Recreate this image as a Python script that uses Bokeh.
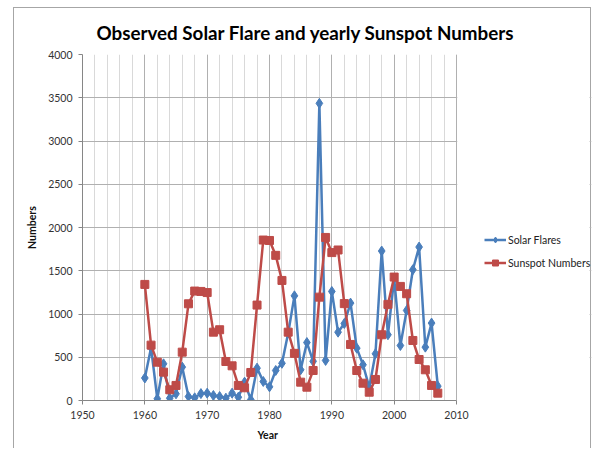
from bokeh.plotting import figure
from bokeh.models import SingleIntervalTicker, Range1d, Legend, LegendItem, BoxAnnotation, Title
from bokeh.embed import file_html
from bokeh.resources import INLINE

years = list(range(1960, 2008))
solar_flares = [260, 610, 20, 424, 27, 77, 386, 46, 31, 80,
                85, 58, 46, 27, 85, 38, 212, 10, 374, 220,
                158, 347, 430, 780, 1210, 355, 670, 453, 3435, 463,
                1261, 790, 890, 1126, 605, 413, 154, 540, 1728, 760,
                1408, 636, 1041, 1512, 1774, 617, 895, 166]
sunspots = [1342, 640, 443, 328, 124, 174, 559, 1118, 1265, 1261,
            1248, 790, 818, 451, 401, 174, 147, 324, 1103, 1855,
            1850, 1678, 1388, 790, 545, 212, 154, 347, 1195, 1885,
            1710, 1740, 1120, 648, 347, 200, 96, 243, 760, 1111,
            1427, 1319, 1234, 694, 474, 355, 174, 85]

title_text = "Observed Solar Flare and yearly Sunspot Numbers"
x_label = "Year"
y_label = "Numbers"
series_names = ["Solar Flares", "Sunspot Numbers"]
x_min, x_max = 1950, 2010
y_min, y_max = 0, 4000

FONT = "Lato"
BLUE = "#4A7EBB"
RED = "#BE4B48"
BORDER = "#a6a6a6"

# frame spans 82..591 px horizontally; the axis part (1950-2010) spans 82..456
px_per_year = (456 - 82) / (x_max - x_min)
x_end = x_min + (591 - 82) / px_per_year

p = figure(width=595, height=448, output_backend="svg", toolbar_location=None,
           x_range=Range1d(x_min, x_end), y_range=Range1d(y_min, y_max),
           min_border_left=82, min_border_top=54, min_border_right=4,
           min_border_bottom=48)
p.outline_line_color = None
p.border_fill_alpha = 0
p.background_fill_alpha = 0

# chart-area border drawn as CSS background lines behind the transparent canvas
g = f"linear-gradient({BORDER}, {BORDER})"
p.styles = {
    "background-color": "white",
    "background-image": f"{g}, {g}, {g}",
    "background-size": "1px 100%, 578px 1px, 1px 100%",
    "background-position": "13px 7px, 13px 7px, 590px 7px",
    "background-repeat": "no-repeat",
}

# title
p.title.text = title_text
p.title.text_font = FONT
p.title.text_font_size = "18.8px"
p.title.text_font_style = "bold"
p.title.text_color = "#000000"
p.title.align = "left"
p.title.offset = 14
p.title.standoff = 21

# axes
p.xaxis.ticker = SingleIntervalTicker(interval=10, num_minor_ticks=5)
p.yaxis.ticker = SingleIntervalTicker(interval=500)
p.xaxis.bounds = (x_min, x_max)
for ax in (p.xaxis[0], p.yaxis[0]):
    ax.axis_line_color = "#868686"
    ax.major_tick_line_color = "#868686"
    ax.major_tick_in = 0
    ax.major_tick_out = 4
    ax.minor_tick_line_color = None
    ax.major_label_text_font = FONT
    ax.major_label_text_font_size = "10.5px"
    ax.major_label_text_color = "#333333"
    ax.major_label_standoff = 6
    ax.axis_label_text_font = FONT
    ax.axis_label_text_font_size = "10.5px"
    ax.axis_label_text_font_style = "bold"
    ax.axis_label_text_color = "#111111"
p.yaxis.axis_label = y_label
p.yaxis.axis_label_standoff = 7

# x-axis label centred under the 1950-2010 part of the axis
xt = Title(text=x_label, align="left", offset=175, vertical_align="bottom",
           text_font=FONT, text_font_size="10.5px", text_font_style="bold",
           text_color="#111111", text_line_height=1.8)
p.add_layout(xt, "below")

p.xgrid.grid_line_color = "#b0b0b0"
p.xgrid.minor_grid_line_color = "#d9d9d9"
p.ygrid.grid_line_color = "#b0b0b0"

# white cover so the grid stops at the end of the x axis
cover = BoxAnnotation(left=x_max + 0.12, right=x_end - 0.3, fill_color="white",
                      fill_alpha=1, line_color=None, level="underlay")
p.add_layout(cover)

l1 = p.line(years, solar_flares, line_color=BLUE, line_width=2.5)
m1 = p.scatter(years, solar_flares, marker="diamond", size=10,
               fill_color=BLUE, line_color=BLUE)
l2 = p.line(years, sunspots, line_color=RED, line_width=2.5)
m2 = p.scatter(years, sunspots, marker="square", size=8,
               fill_color=RED, line_color=RED)

legend = Legend(items=[LegendItem(label=series_names[0], renderers=[l1, m1]),
                       LegendItem(label=series_names[1], renderers=[l2, m2])],
                location=(402, 130), orientation="vertical")
legend.padding = 0
legend.margin = 0
legend.border_line_color = None
legend.background_fill_alpha = 0
legend.glyph_width = 22
legend.glyph_height = 15
legend.spacing = 8
legend.label_standoff = 2
legend.label_text_font = FONT
legend.label_text_font_size = "10.5px"
legend.label_text_color = "#222222"
p.add_layout(legend, "center")

open("out.html", "w").write(file_html(p, INLINE))
